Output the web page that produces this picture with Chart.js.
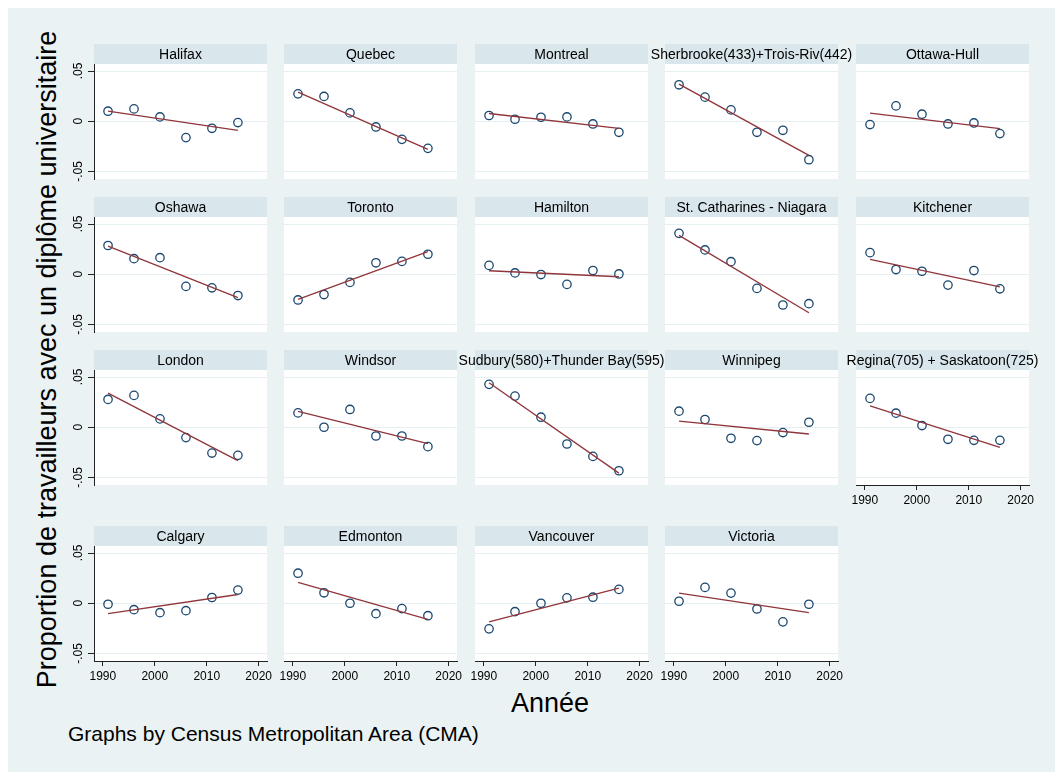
<!DOCTYPE html>
<html>
<head>
<meta charset="utf-8">
<script src="https://cdn.jsdelivr.net/npm/chart.js@4.4.0/dist/chart.umd.min.js"></script>
<style>
  body { margin: 0; background: #fff; width: 1055px; height: 772px; overflow: hidden; position: relative; font-family: "Liberation Sans", Arial, sans-serif; }
  #fond { position: absolute; left: 8px; top: 8px; width: 1047px; height: 764px; background: #eaf2f3; }
  canvas { position: absolute; }
  .txt { position: absolute; color: #000; white-space: nowrap; }
  #ytitle { font-size: 27px; line-height: 27px; height: 27px; width: 700px; text-align: center; left: -303px; top: 346px; transform: rotate(-90deg); }
  #xtitle { font-size: 27px; line-height: 27px; width: 200px; text-align: center; left: 450px; top: 690px; }
  #note { font-size: 21px; line-height: 21px; left: 68px; top: 723px; }
</style>
</head>
<body>
<div id="fond"></div>
<div class="txt" id="ytitle">Proportion de travailleurs avec un diplôme universitaire</div>
<div class="txt" id="xtitle">Année</div>
<div class="txt" id="note">Graphs by Census Metropolitan Area (CMA)</div>

<script>
// Données : écart de la proportion par RMR et par année de recensement
const cmaNames = ['Halifax', 'Quebec', 'Montreal', 'Sherbrooke(433)+Trois-Riv(442)', 'Ottawa-Hull',
  'Oshawa', 'Toronto', 'Hamilton', 'St. Catharines - Niagara', 'Kitchener',
  'London', 'Windsor', 'Sudbury(580)+Thunder Bay(595)', 'Winnipeg', 'Regina(705) + Saskatoon(725)',
  'Calgary', 'Edmonton', 'Vancouver', 'Victoria'];
const years = [1991, 1996, 2001, 2006, 2011, 2016];

const halifax = [0.010, 0.0123, 0.0043, -0.0163, -0.007, -0.0013];
const quebec = [0.0273, 0.0247, 0.0083, -0.0057, -0.018, -0.027];
const montreal = [0.0057, 0.002, 0.004, 0.0043, -0.0027, -0.011];
const sherbrooke = [0.0363, 0.024, 0.0113, -0.011, -0.009, -0.0383];
const ottawa = [-0.0033, 0.0153, 0.007, -0.0027, -0.0017, -0.0123];
const oshawa = [0.0286, 0.0155, 0.0165, -0.0121, -0.0135, -0.0212];
const toronto = [-0.0256, -0.0202, -0.0081, 0.0114, 0.0128, 0.0199];
const hamilton = [0.0088, 0.0013, -0.0003, -0.0101, 0.0037, 0.0003];
const stCatharines = [0.0407, 0.0242, 0.0125, -0.0141, -0.0306, -0.0293];
const kitchener = [0.0215, 0.0047, 0.003, -0.0108, 0.0037, -0.0145];
const london = [0.0277, 0.0317, 0.0083, -0.0103, -0.0257, -0.028];
const windsor = [0.0143, 0, 0.0177, -0.0087, -0.0087, -0.0193];
const sudbury = [0.0427, 0.031, 0.01, -0.0167, -0.029, -0.0433];
const winnipeg = [0.016, 0.0077, -0.011, -0.0133, -0.0053, 0.005];
const regina = [0.0287, 0.014, 0.0017, -0.012, -0.013, -0.013];
const calgary = [-0.001, -0.0064, -0.0094, -0.0074, 0.0057, 0.0131];
const edmonton = [0.0299, 0.0104, 0, -0.0104, -0.0054, -0.0124];
const vancouver = [-0.0255, -0.0084, 0, 0.0054, 0.006, 0.0138];
const victoria = [0.002, 0.0158, 0.0101, -0.0057, -0.0185, -0.001];

// Droites d'ajustement (valeurs en 1991 et en 2016)
const fitStart = [0.010, 0.029, 0.0077, 0.037, 0.008, 0.028, -0.025, 0.0035, 0.0387, 0.0148,
  0.034, 0.0157, 0.0443, 0.006, 0.0213, -0.0104, 0.0208, -0.0185, 0.0101];
const fitEnd = [-0.009, -0.028, -0.007, -0.034, -0.0073, -0.0232, 0.0226, -0.0025, -0.0384, -0.0125,
  -0.0333, -0.0163, -0.0457, -0.0067, -0.02, 0.0087, -0.0161, 0.0151, -0.0094];

const yTicks = [-0.05, 0, 0.05];
const yTickLabels = ['-.05', '0', '.05'];
const xTicks = [1990, 2000, 2010, 2020];

const series = [halifax, quebec, montreal, sherbrooke, ottawa, oshawa, toronto, hamilton, stCatharines,
  kitchener, london, windsor, sudbury, winnipeg, regina, calgary, edmonton, vancouver, victoria];

// Mise en page
const FONT = '"Liberation Sans", Arial, sans-serif';
const colLefts = [94, 284, 475, 665, 856];
const rowTops = [44, 197, 350, 526];
const PLOT_W = 173, PLOT_H = 115, STRIP_H = 20;
const AXIS_W = 45, AXIS_H = 32, PAD_R = 25;

const COLORS = {
  strip: '#d9e6eb',
  grid: '#e6eff1',
  axis: '#222222',
  marker: '#1a476f',
  fit: '#90353b'
};

// Fond blanc de la zone de tracé + bandeau de titre
const panelPlugin = {
  id: 'panelDeco',
  beforeDraw(chart, args, opts) {
    const { ctx, chartArea: a } = chart;
    ctx.save();
    ctx.fillStyle = '#ffffff';
    ctx.fillRect(a.left, a.top, a.right - a.left, a.bottom - a.top);
    ctx.fillStyle = COLORS.strip;
    ctx.fillRect(a.left, a.top - STRIP_H, a.right - a.left, STRIP_H);
    ctx.fillStyle = '#000';
    ctx.font = '14px ' + FONT;
    ctx.textAlign = 'center';
    ctx.textBaseline = 'middle';
    ctx.fillText(opts.title, (a.left + a.right) / 2, a.top - STRIP_H / 2 + 1);
    ctx.restore();
  },
  afterDraw(chart, args, opts) {
    if (!opts.yLabels) return;
    const { ctx, chartArea: a } = chart;
    const y = chart.scales.y;
    ctx.save();
    ctx.fillStyle = '#000';
    ctx.font = '12px ' + FONT;
    ctx.textAlign = 'center';
    ctx.textBaseline = 'middle';
    yTicks.forEach((v, i) => {
      ctx.save();
      ctx.translate(a.left - 15, y.getPixelForValue(v));
      ctx.rotate(-Math.PI / 2);
      ctx.fillText(yTickLabels[i], 0, 0);
      ctx.restore();
    });
    ctx.restore();
  }
};

function buildPanel(i) {
  const row = Math.floor(i / 5);
  const col = i % 5;
  const showY = col === 0;
  const showX = i >= 14;

  const canvas = document.createElement('canvas');
  canvas.width = AXIS_W + PLOT_W + PAD_R;
  canvas.height = STRIP_H + PLOT_H + AXIS_H;
  canvas.style.left = (colLefts[col] - AXIS_W) + 'px';
  canvas.style.top = rowTops[row] + 'px';
  document.body.appendChild(canvas);

  const points = years.map((yr, k) => ({ x: yr, y: series[i][k] }));
  const fit = [{ x: years[0], y: fitStart[i] }, { x: years[years.length - 1], y: fitEnd[i] }];

  new Chart(canvas.getContext('2d'), {
    type: 'scatter',
    data: {
      datasets: [{
        data: points,
        pointStyle: 'circle',
        pointRadius: 4.2,
        pointBorderWidth: 1.3,
        pointBackgroundColor: 'rgba(0,0,0,0)',
        pointBorderColor: COLORS.marker,
        order: 2
      }, {
        type: 'line',
        data: fit,
        borderColor: COLORS.fit,
        borderWidth: 1.3,
        pointRadius: 0,
        fill: false,
        order: 1
      }]
    },
    options: {
      responsive: false,
      animation: false,
      devicePixelRatio: 1,
      layout: { padding: { left: 0, top: STRIP_H, right: PAD_R, bottom: 0 } },
      plugins: {
        legend: { display: false },
        tooltip: { enabled: false },
        panelDeco: { title: cmaNames[i], yLabels: showY }
      },
      scales: {
        x: {
          type: 'linear',
          min: 1988.3,
          max: 2021.6,
          afterBuildTicks: s => { s.ticks = xTicks.map(v => ({ value: v })); },
          afterFit: s => { s.height = AXIS_H; },
          ticks: {
            display: showX,
            font: { size: 12, family: FONT },
            color: '#000',
            padding: 3,
            maxRotation: 0,
            callback: v => String(v)
          },
          grid: {
            display: showX,
            drawOnChartArea: false,
            drawTicks: true,
            tickLength: 5,
            tickColor: COLORS.axis
          },
          border: { display: showX, color: COLORS.axis, width: 1 }
        },
        y: {
          type: 'linear',
          min: -0.0575,
          max: 0.057,
          afterBuildTicks: s => { s.ticks = yTicks.map(v => ({ value: v })); },
          afterFit: s => { s.width = AXIS_W; },
          ticks: { display: false },
          grid: {
            color: COLORS.grid,
            lineWidth: 1,
            drawTicks: showY,
            tickLength: 6,
            tickColor: COLORS.axis
          },
          border: { display: showY, color: COLORS.axis, width: 1 }
        }
      }
    },
    plugins: [panelPlugin]
  });
}

document.addEventListener('DOMContentLoaded', function() {
  for (let i = 0; i < cmaNames.length; i++) {
    buildPanel(i);
  }
});
</script>
</body>
</html>
